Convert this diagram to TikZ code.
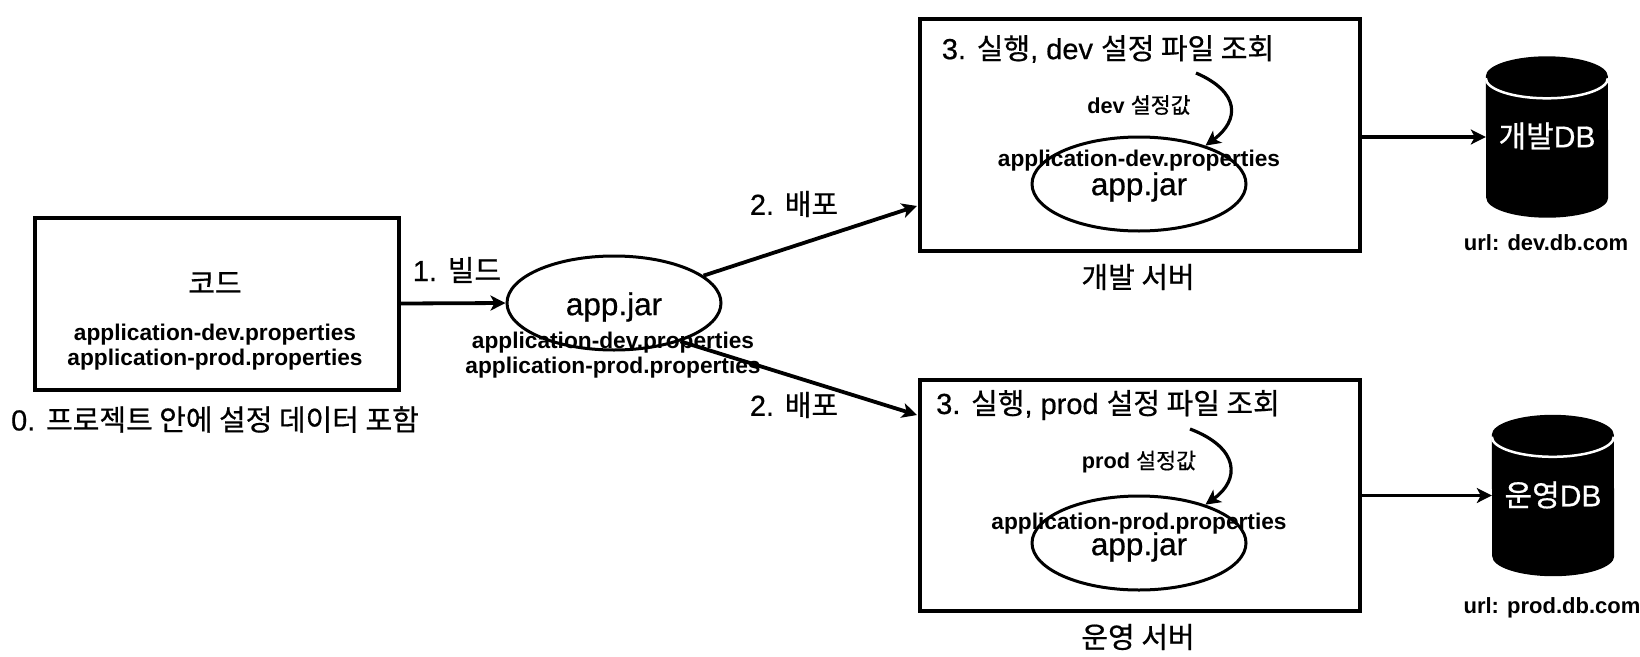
\documentclass[tikz,border=0pt]{standalone}
\usepackage{fontspec}
\setmainfont{Liberation Sans}[FakeBold=0.6,BoldFeatures={FakeBold=0}]
\newfontfamily\krfont{Noto Sans CJK KR}[FakeBold=0.6]
\newcommand{\kr}[1]{{\mdseries\krfont #1}}
\usetikzlibrary{arrows.meta,shapes.geometric,calc}
\tikzset{
  box/.style={draw=black,line width=4pt,fill=white,rectangle,inner sep=0pt},
  jarell/.style={draw=black,line width=3pt,fill=white,ellipse,inner sep=0pt,minimum width=214pt,minimum height=94pt},
  conn/.style={line width=3.8pt,-{Stealth[length=15pt,width=15pt,inset=4pt]}},
  curv/.style={line width=3.2pt,-{Stealth[length=15pt,width=15pt,inset=4pt]}},
  big/.style={inner sep=0pt,font=\fontsize{29pt}{32pt}\selectfont},
  jartxt/.style={inner sep=0pt,font=\fontsize{31.5pt}{34pt}\selectfont},
  prop/.style={inner sep=0pt,font=\fontsize{22.7pt}{25pt}\selectfont\bfseries},
  small/.style={inner sep=0pt,font=\fontsize{21.7pt}{24pt}\selectfont\bfseries},
  urltxt/.style={inner sep=0pt,font=\fontsize{22pt}{24pt}\selectfont\bfseries},
  dbtxt/.style={inner sep=0pt,text=white,font=\fontsize{30pt}{34pt}\selectfont},
  dbnode/.style={inner sep=0pt,minimum width=122pt,minimum height=161pt},
}
\newcommand{\dbshape}[1]{%
  \fill[black] ($(#1.north west)+(0,20)$) arc[start angle=180,end angle=360,x radius=61,y radius=20]
     -- ($(#1.south east)+(0,-20)$) arc[start angle=0,end angle=180,x radius=61,y radius=20] -- cycle;
  \draw[white,line width=2.5pt] ($(#1.north west)+(0,22)$) arc[start angle=180,end angle=0,x radius=61,y radius=20];
}
\begin{document}
\begin{tikzpicture}[x=1pt,y=-1pt]
\useasboundingbox (0,0) rectangle (1640,656);
\fill[white] (0,0) rectangle (1640,656);
% boxes
\node[box,minimum width=364pt,minimum height=172pt] (code) at (216.5,303.5) {};
\node[box,minimum width=440pt,minimum height=232pt] (dev) at (1140,134.5) {};
\node[box,minimum width=440pt,minimum height=231pt] (prod) at (1140,495) {};
% ellipses
\node[jarell] (jar) at (614,303) {};
\node[jarell] (jardev) at (1139,184) {};
\node[jarell] (jarprod) at (1139,543) {};
% databases
\node[dbnode] (devdb) at (1547,137) {};
\node[dbnode] (proddb) at (1553,495.5) {};
\dbshape{devdb}
\dbshape{proddb}
\node[dbtxt] (devdbt) at (1547,136) {\kr{개발}DB};
\node[dbtxt] (proddbt) at (1553,495) {\kr{운영}DB};
% free ends
\coordinate (devin) at (917,206);
\coordinate (prodin) at (917,415);
\coordinate (cdevs) at (1196,73);
\coordinate (cprods) at (1190,429);
% connectors
\draw[conn] (code.east) -- (jar.west);
\draw[conn] (jar.17) -- (devin);
\draw[conn] (jar.-30) -- (prodin);
\draw[conn,line width=3.2pt] (dev.east |- devdb.west) -- (devdb.west);
\draw[conn,line width=3.2pt] (prod.east |- proddb.west) -- (proddb.west);
\draw[curv] (cdevs) .. controls (1240,92) and (1240,120) .. (jardev.30);
\draw[curv] (cprods) .. controls (1240,448) and (1240,480) .. (jarprod.30);
% texts
\node[big] (tcode) at (215,283) {\kr{코드}};
\node[prop] (p1) at (215,335) {application-dev.properties};
\node[prop] (p2) at (215,360) {application-prod.properties};
\node[big] (t0) at (215,419.5) {0. \kr{프로젝트 안에 설정 데이터 포함}};
\node[big] (t1) at (457,270) {1. \kr{빌드}};
\node[jartxt] (tjar) at (614,307) {app.jar};
\node[prop] (p3) at (613,343) {application-dev.properties};
\node[prop] (p4) at (613,368) {application-prod.properties};
\node[big] (t2a) at (794,204) {2. \kr{배포}};
\node[big] (t2b) at (794,405) {2. \kr{배포}};
\node[big] (t3a) at (1108,49) {3. \kr{실행}, dev \kr{설정 파일 조회}};
\node[big] (t3b) at (1108,405) {3. \kr{실행}, prod \kr{설정 파일 조회}};
\node[small] (va) at (1139,105) {dev \kr{설정값}};
\node[small] (vb) at (1139,462) {prod \kr{설정값}};
\node[prop] (p5) at (1139,161) {application-dev.properties};
\node[prop] (p6) at (1139,524) {application-prod.properties};
\node[jartxt] (tjar2) at (1139,187) {app.jar};
\node[jartxt] (tjar3) at (1139,547) {app.jar};
\node[big] (sa) at (1138,277) {\kr{개발 서버}};
\node[big] (sb) at (1138,637) {\kr{운영 서버}};
\node[urltxt] (ua) at (1546,243) {url: dev.db.com};
\node[urltxt] (ub) at (1552,608) {url: prod.db.com};
\end{tikzpicture}
\end{document}
